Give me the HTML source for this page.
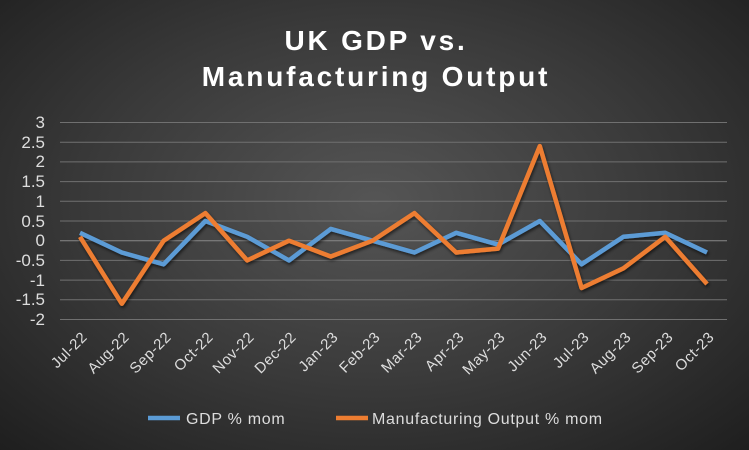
<!DOCTYPE html>
<html><head><style>
html,body{margin:0;padding:0}
body{width:749px;height:450px;overflow:hidden;background:radial-gradient(ellipse 75% 80% at 50% 45%,#555 0%,#3a3a3a 50%,#1c1c1c 100%);font-family:"Liberation Sans",sans-serif}
</style></head><body>
<svg width="749" height="450" xmlns="http://www.w3.org/2000/svg" style="position:absolute;left:0;top:0">
<defs><filter id="sh" x="-10%" y="-10%" width="120%" height="120%"><feDropShadow dx="1" dy="2" stdDeviation="1.5" flood-color="#000" flood-opacity="0.6"/></filter></defs>
<g font-family="Liberation Sans, sans-serif" fill="#fff" font-weight="bold" font-size="28" letter-spacing="2.8" text-anchor="middle">
<text x="376" y="50">UK GDP vs.</text>
<text x="376" y="86">Manufacturing Output</text>
</g>
<g stroke="#707070" stroke-width="1">
<line x1="60" x2="727" y1="122.5" y2="122.5"/><line x1="60" x2="727" y1="142.2" y2="142.2"/>
<line x1="60" x2="727" y1="161.9" y2="161.9"/><line x1="60" x2="727" y1="181.6" y2="181.6"/>
<line x1="60" x2="727" y1="201.3" y2="201.3"/><line x1="60" x2="727" y1="221" y2="221"/>
<line x1="60" x2="727" y1="260.4" y2="260.4"/><line x1="60" x2="727" y1="280.1" y2="280.1"/>
<line x1="60" x2="727" y1="299.8" y2="299.8"/><line x1="60" x2="727" y1="319.5" y2="319.5"/>
</g>
<line x1="60" x2="727" y1="240.7" y2="240.7" stroke="#888" stroke-width="1"/>
<g font-size="17" fill="#ddd" text-anchor="end" font-family="Liberation Sans, sans-serif">
<text x="45" y="128">3</text><text x="45" y="148">2.5</text><text x="45" y="167">2</text><text x="45" y="187">1.5</text><text x="45" y="207">1</text><text x="45" y="227">0.5</text><text x="45" y="246">0</text><text x="45" y="266">-0.5</text><text x="45" y="286">-1</text><text x="45" y="305">-1.5</text><text x="45" y="325">-2</text>
</g>
<g font-size="15" fill="#ddd" text-anchor="end" letter-spacing="0.5" font-family="Liberation Sans, sans-serif">
<text transform="translate(88,338) rotate(-45)">Jul-22</text>
<text transform="translate(130,338) rotate(-45)">Aug-22</text>
<text transform="translate(172,338) rotate(-45)">Sep-22</text>
<text transform="translate(214,338) rotate(-45)">Oct-22</text>
<text transform="translate(255,338) rotate(-45)">Nov-22</text>
<text transform="translate(297,338) rotate(-45)">Dec-22</text>
<text transform="translate(339,338) rotate(-45)">Jan-23</text>
<text transform="translate(381,338) rotate(-45)">Feb-23</text>
<text transform="translate(423,338) rotate(-45)">Mar-23</text>
<text transform="translate(465,338) rotate(-45)">Apr-23</text>
<text transform="translate(506,338) rotate(-45)">May-23</text>
<text transform="translate(548,338) rotate(-45)">Jun-23</text>
<text transform="translate(590,338) rotate(-45)">Jul-23</text>
<text transform="translate(632,338) rotate(-45)">Aug-23</text>
<text transform="translate(674,338) rotate(-45)">Sep-23</text>
<text transform="translate(715,338) rotate(-45)">Oct-23</text>
</g>
<g fill="none" stroke-width="4.5" stroke-linejoin="round" filter="url(#sh)">
<polyline stroke="#5b9bd5" points="80,232.8 121.8,252.5 163.6,264.3 205.4,221 247.2,236.8 289,260.4 330.8,228.9 372.6,240.7 414.4,252.5 456.2,232.8 498,244.6 539.8,221 581.6,264.3 623.4,236.8 665.2,232.8 707,252.5"/>
<polyline stroke="#ed7d31" points="80,236.8 121.8,303.7 163.6,240.7 205.4,213.1 247.2,260.4 289,240.7 330.8,256.5 372.6,240.7 414.4,213.1 456.2,252.5 498,248.6 539.8,146.1 581.6,288 623.4,268.3 665.2,236.8 707,284"/>
</g>
<line x1="148" x2="180" y1="418" y2="418" stroke="#5b9bd5" stroke-width="4.5"/>
<line x1="336" x2="368" y1="418" y2="418" stroke="#ed7d31" stroke-width="4.5"/>
<g font-size="16" fill="#ddd" letter-spacing="0.7" font-family="Liberation Sans, sans-serif">
<text x="186" y="424">GDP % mom</text>
<text x="372" y="424">Manufacturing Output % mom</text>
</g>
</svg>
</body></html>
